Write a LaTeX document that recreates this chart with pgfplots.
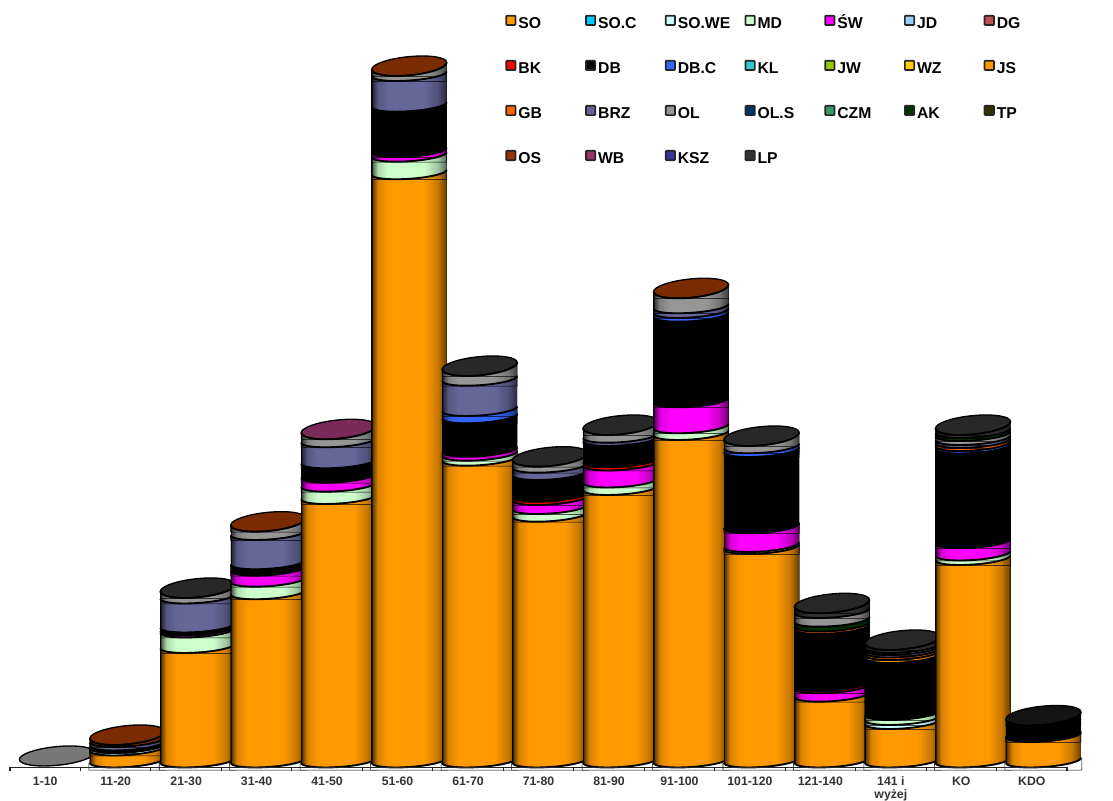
\documentclass[border=0pt]{standalone}
\usepackage{pgfplots}
\pgfplotsset{compat=1.18}
\usepackage{fontspec}
\setmainfont{Liberation Sans}
% curved front rim of a cylinder segment (mark coordinates in pt)
\def\lowarc{(-28.125,3.375) .. controls (-28.125,0.666) and (-15.533,-0.691) .. (0,0.345) .. controls (15.533,1.381) and (28.125,4.416) .. (28.125,7.125)}
\def\caparc{(-28.125,4.875) .. controls (-28.125,0.994) and (-15.533,-0.977) .. (0,0.473) .. controls (15.533,1.923) and (28.125,6.244) .. (28.125,10.125)}
\def\uparc{.. controls (28.125,14.006) and (15.533,15.977) .. (0,14.527) .. controls (-15.533,13.077) and (-28.125,8.756) .. (-28.125,4.875)}
\newcommand\DefSer[2]{%
  \definecolor{c#1}{HTML}{#2}%
  \pgfdeclarehorizontalshading{cyl#1}{100bp}{color(0bp)=(black);color(25bp)=(black);color(25.7bp)=(c#1!40!black);color(29bp)=(c#1!85!black);color(36bp)=(c#1);color(60bp)=(c#1);color(69bp)=(c#1!78!black);color(74.3bp)=(c#1!45!black);color(75bp)=(black);color(100bp)=(black)}%
  \pgfdeclareplotmark{head#1}{%
    \path[x=1pt,y=1pt,shade,shading=cyl#1] (-28.125,-.3) -- \lowarc -- (28.125,-.3) -- cycle;
    \draw[x=1pt,y=1pt,black,line width=1.4pt] \lowarc;
  }%
  \pgfdeclareplotmark{tophead#1}{%
    \path[x=1pt,y=1pt,shade,shading=cyl#1] (-28.125,-.3) -- \caparc -- (28.125,-.3) -- cycle;
    \draw[x=1pt,y=1pt,black,line width=1.4pt] \caparc;
  }}
\newcommand\DefCap[2]{%
  \definecolor{t#1}{HTML}{#2}%
  \pgfdeclareplotmark{cap#1}{\draw[x=1pt,y=1pt,black,line width=1pt,fill=t#1] \caparc \uparc -- cycle;}}
\DefSer{SO}{FF9900}\DefSer{SOC}{00CCFF}\DefSer{SOWE}{CCFFFF}\DefSer{MD}{CCFFCC}\DefSer{SW}{FF00FF}
\DefSer{JD}{99CCFF}\DefSer{DG}{C0504D}\DefSer{BK}{FF0000}\DefSer{DB}{000000}\DefSer{DBC}{3366FF}
\DefSer{KL}{33CCCC}\DefSer{JW}{99CC00}\DefSer{WZ}{FFCC00}\DefSer{JS}{FF9900}\DefSer{GB}{FF6600}
\DefSer{BRZ}{666699}\DefSer{OL}{969696}\DefSer{OLS}{003366}\DefSer{CZM}{339966}\DefSer{AK}{003300}
\DefSer{TP}{333300}\DefSer{OS}{993300}\DefSer{WB}{993366}\DefSer{KSZ}{333399}\DefSer{LP}{333333}
\DefCap{OS}{7A2C00}\DefCap{LP}{282828}\DefCap{WB}{7A2A58}\DefCap{OL}{787878}\DefCap{DB}{141414}
\pgfdeclareplotmark{basemask}{%
  \path[x=1pt,y=1pt,yshift=.8pt,fill=white] (-28.9,-2) -- (-28.9,3.375) -- \lowarc -- (28.9,7.125) -- (28.9,-2) -- cycle;
  \draw[x=1pt,y=1pt,yshift=.8pt,black,line width=1.4pt] \lowarc;}
\pgfplotsset{barstyle/.style={forget plot,ybar,bar width=56.25pt,bar shift=0pt,shade,shading=cyl#1,draw=none,mark=none}}
\newcommand\Seg[3]{\addplot[barstyle=#1] coordinates {(#2,#3)};\addplot[forget plot,only marks,mark=head#1] coordinates {(#2,#3)};}
\newcommand\SegT[3]{\addplot[barstyle=#1] coordinates {(#2,#3)};\addplot[forget plot,only marks,mark=tophead#1] coordinates {(#2,#3)};}
\newcommand\Top[3]{\addplot[forget plot,only marks,mark=cap#1] coordinates {(#2,#3)};}
\newcommand\Base[1]{\addplot[forget plot,only marks,mark=basemask] coordinates {(#1,0)};}
\newcommand\Leg[2]{\addlegendimage{legend image code/.code={\draw[fill=c#1,draw=black!85,line width=1.3pt,rounded corners=.6pt] (0pt,-2.4pt) rectangle (7pt,4.6pt);}}\addlegendentry{\makebox[51.5pt][l]{\rule[-.5pt]{0pt}{11.5pt}\hspace{1.5pt}#2}}}
\begin{document}
\begin{tikzpicture}
\path[use as bounding box] (0,0) rectangle (834.75pt,600pt);
\begin{axis}[
  at={(7.5pt,24.4pt)},anchor=origin,
  scale only axis,width=792.75pt,height=575.6pt,
  xmin=0,xmax=15,ymin=0,ymax=767.5,
  clip=false,clip mode=individual,axis on top,
  axis x line*=bottom,axis y line=none,
  x axis line style={-,line width=.9pt,black!85},
  xtick={0,...,15},x tick label as interval,
  xticklabels={1-10,11-20,21-30,31-40,41-50,51-60,61-70,71-80,81-90,91-100,101-120,121-140,{141 i\\wyżej},KO,KDO},
  x tick label style={font=\fontsize{9.2}{9.6}\selectfont\bfseries,text=black!80,align=center,anchor=north,yshift=-4pt,inner sep=0pt},
  tick align=outside,major tick length=3pt,tick style={black!85,line width=.8pt},
  legend columns=7,
  legend style={at={(371.5pt,565.5pt)},anchor=north west,draw=none,fill=none,inner sep=0pt,outer sep=0pt,
    font=\fontsize{11.8}{13}\selectfont\bfseries,/tikz/column sep=0pt,/tikz/row sep=21.3pt,
    nodes={inner sep=0pt,outer sep=0pt}},
  legend cell align=left,
]
\Leg{SO}{SO}\Leg{SOC}{SO.C}\Leg{SOWE}{SO.WE}\Leg{MD}{MD}\Leg{SW}{ŚW}\Leg{JD}{JD}\Leg{DG}{DG}
\Leg{BK}{BK}\Leg{DB}{DB}\Leg{DBC}{DB.C}\Leg{KL}{KL}\Leg{JW}{JW}\Leg{WZ}{WZ}\Leg{JS}{JS}
\Leg{GB}{GB}\Leg{BRZ}{BRZ}\Leg{OL}{OL}\Leg{OLS}{OL.S}\Leg{CZM}{CZM}\Leg{AK}{AK}\Leg{TP}{TP}
\Leg{OS}{OS}\Leg{WB}{WB}\Leg{KSZ}{KSZ}\Leg{LP}{LP}
% 1-10
\Top{OL}{0.665}{1.5}
% 11-20
\Top{OS}{1.665}{22.5}
\SegT{OS}{1.665}{22.5}\Seg{BRZ}{1.665}{20.5}\Seg{DB}{1.665}{17}\Seg{MD}{1.665}{14.5}\Seg{SO}{1.665}{12}\Base{1.665}
% 21-30
\Top{LP}{2.665}{169.5}
\SegT{OL}{2.665}{169.5}\Seg{BRZ}{2.665}{164}\Seg{DB}{2.665}{135}\Seg{SW}{2.665}{132}\Seg{MD}{2.665}{130}\Seg{SO}{2.665}{114.5}\Base{2.665}
% 31-40
\Top{OS}{3.665}{235.8}
\SegT{OL}{3.665}{235.8}\Seg{BRZ}{3.665}{227.5}\Seg{DB}{3.665}{198.2}\Seg{SW}{3.665}{191.8}\Seg{MD}{3.665}{180.8}\Seg{SO}{3.665}{168.2}\Base{3.665}
% 41-50
\Top{WB}{4.665}{328.2}
\SegT{OL}{4.665}{328.2}\Seg{BRZ}{4.665}{320.2}\Seg{DB}{4.665}{299.2}\Seg{SW}{4.665}{284.8}\Seg{MD}{4.665}{275.8}\Seg{SO}{4.665}{263.5}\Base{4.665}
% 51-60
\Top{OS}{5.665}{691.5}
\SegT{OL}{5.665}{691.5}\Seg{BRZ}{5.665}{686.5}\Seg{DB}{5.665}{655.8}\Seg{SW}{5.665}{610.2}\Seg{MD}{5.665}{605.8}\Seg{SO}{5.665}{588.2}\Base{5.665}
% 61-70
\Top{LP}{6.665}{391.5}
\SegT{OL}{6.665}{391.5}\Seg{BRZ}{6.665}{381.8}\Seg{DBC}{6.665}{351.5}\Seg{DB}{6.665}{344.2}\Seg{SW}{6.665}{310.8}\Seg{MD}{6.665}{306.8}\Seg{SO}{6.665}{301.8}\Base{6.665}
% 71-80
\Top{LP}{7.665}{300.8}
\SegT{OL}{7.665}{300.8}\Seg{BRZ}{7.665}{294.8}\Seg{DB}{7.665}{287.5}\Seg{BK}{7.665}{265.8}\Seg{SW}{7.665}{262.5}\Seg{MD}{7.665}{253.5}\Seg{SO}{7.665}{245.8}\Base{7.665}
% 81-90
\Top{LP}{8.665}{332.5}
\SegT{OL}{8.665}{332.5}\Seg{BRZ}{8.665}{324.8}\Seg{DB}{8.665}{321.5}\Seg{BK}{8.665}{300.2}\Seg{SW}{8.665}{297}\Seg{MD}{8.665}{280}\Seg{SO}{8.665}{272.5}\Base{8.665}
% 91-100
\Top{OS}{9.665}{469.2}
\SegT{OL}{9.665}{469.2}\Seg{BRZ}{9.665}{454.2}\Seg{DBC}{9.665}{449.5}\Seg{DB}{9.665}{445.8}\Seg{SW}{9.665}{360.2}\Seg{MD}{9.665}{334.2}\Seg{SO}{9.665}{327.5}\Base{9.665}
% 101-120
\Top{LP}{10.665}{321.5}
\SegT{OL}{10.665}{321.5}\Seg{DBC}{10.665}{314.2}\Seg{DB}{10.665}{310.5}\Seg{BK}{10.665}{235}\Seg{SW}{10.665}{234.2}\Seg{MD}{10.665}{215.5}\Seg{SO}{10.665}{213.5}\Base{10.665}
% 121-140
\Top{LP}{11.665}{154.2}
\SegT{LP}{11.665}{154.2}\Seg{OL}{11.665}{149.5}\Seg{AK}{11.665}{140.8}\Seg{GB}{11.665}{136}\Seg{DB}{11.665}{133.5}\Seg{BK}{11.665}{76.5}\Seg{SW}{11.665}{74.2}\Seg{SO}{11.665}{65.8}\Base{11.665}
% 141 i wyzej
\Top{LP}{12.665}{117.5}
\SegT{LP}{12.665}{117.5}\Seg{OL}{12.665}{114.5}\Seg{BRZ}{12.665}{112.5}\Seg{GB}{12.665}{110}\Seg{JS}{12.665}{107.5}\Seg{DB}{12.665}{104.5}\Seg{MD}{12.665}{47.5}\Seg{SOWE}{12.665}{42.5}\Seg{SO}{12.665}{38.5}\Base{12.665}
% KO
\Top{LP}{13.665}{332.5}
\SegT{LP}{13.665}{332.5}\Seg{AK}{13.665}{329.5}\Seg{OL}{13.665}{326.5}\Seg{BRZ}{13.665}{322.5}\Seg{GB}{13.665}{319.5}\Seg{DBC}{13.665}{316.5}\Seg{DB}{13.665}{314}\Seg{SW}{13.665}{219.2}\Seg{MD}{13.665}{207}\Seg{SO}{13.665}{202.5}\Base{13.665}
% KDO
\Top{DB}{14.665}{42}
\SegT{DB}{14.665}{42}\Seg{SW}{14.665}{26.5}\Seg{SO}{14.665}{25.5}\Base{14.665}
\end{axis}
\end{tikzpicture}
\end{document}
